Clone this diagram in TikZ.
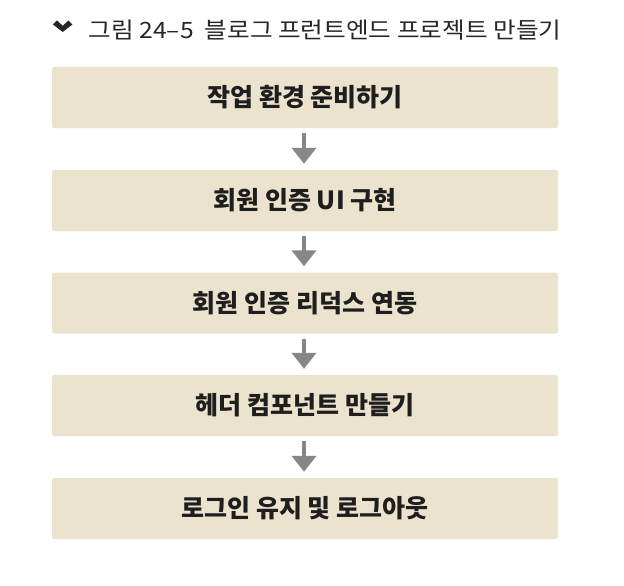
\documentclass[tikz,border=0pt]{standalone}
\usepackage{fontspec}
\setmainfont{Noto Sans CJK KR}
\newfontfamily\krfont{Noto Sans CJK KR}
\newfontfamily\krtitle[FakeStretch=1.095]{Noto Sans CJK KR}
\usetikzlibrary{arrows.meta}
\definecolor{boxfill}{RGB}{236,227,207}
\definecolor{arrowgray}{RGB}{135,135,135}
\definecolor{titlegray}{RGB}{38,38,38}
\definecolor{boxtext}{RGB}{30,30,30}
\tikzset{
  stepbox/.style={fill=boxfill, draw=none, rounded corners=2pt, minimum width=506pt, minimum height=61pt, inner sep=0pt,
    font=\krfont\bfseries\fontsize{25}{27}\selectfont, text=boxtext},
  flowarrow/.style={draw=arrowgray, line width=4pt, -{Triangle[width=24pt,length=16pt]}, shorten <=5pt, shorten >=6pt}
}
\begin{document}
\begin{tikzpicture}[x=1pt,y=-1pt]
\useasboundingbox (0,0) rectangle (624,586);
\fill[titlegray] (53,24.5) -- (57,20.5) -- (62.7,25.8) -- (68.4,20.5) -- (72.4,24.5) -- (62.7,32) -- cycle;
\node[anchor=base west, inner sep=0pt, text=titlegray, font=\krtitle\fontsize{22.5}{25}\selectfont] (title) at (88.5,38.5) {그림 24–5\ \ 블로그 프런트엔드 프로젝트 만들기};
\node[stepbox] (s1) at (305,97.5) {작업 환경 준비하기};
\node[stepbox] (s2) at (305,200.5) {회원 인증 UI 구현};
\node[stepbox] (s3) at (305,303) {회원 인증 리덕스 연동};
\node[stepbox] (s4) at (305,405.5) {헤더 컴포넌트 만들기};
\node[stepbox] (s5) at (305,508.5) {로그인 유지 및 로그아웃};
\foreach \a/\b in {s1/s2,s2/s3,s3/s4,s4/s5}
  \draw[flowarrow] ([xshift=-1pt]\a.south) -- ([xshift=-1pt]\b.north);
\end{tikzpicture}
\end{document}
